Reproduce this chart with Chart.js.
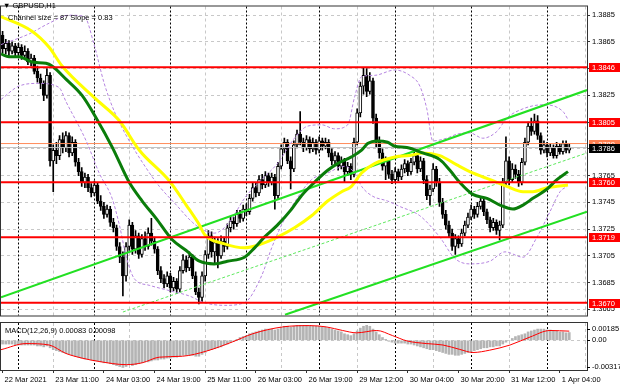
<!DOCTYPE html>
<html>
<head>
<meta charset="utf-8">
<script src="https://cdn.jsdelivr.net/npm/chart.js@4.4.1/dist/chart.umd.min.js"></script>
<style>
  body { margin: 0; background: #fff; }
  #wrap { position: relative; width: 620px; height: 388px; overflow: hidden; font-family: "Liberation Sans", Arial, sans-serif; }
  #main { position: absolute; left: 0; top: 0; }
  #macd { position: absolute; left: 0; top: 322px; }
  .lbl { position: absolute; font-size: 7.5px; color: #000; white-space: nowrap; }
</style>
</head>
<body>
<div id="wrap">
  <canvas id="main" width="620" height="322"></canvas>
  <canvas id="macd" width="620" height="66"></canvas>
  <div class="lbl" style="left:3px;top:1px">&#9660; GBPUSD,H1</div>
  <div class="lbl" style="left:8px;top:13px">Channel size = 87 Slope = 0.83</div>
  <div class="lbl" style="left:5px;top:326px">MACD(12,26,9) 0.00083 0.00098</div>
</div>
<script>
// GBPUSD H1, 22 Mar 2021 19:00 .. 1 Apr 2021 07:00 (bar index 0..179)
const opens = [1.3870,1.3860,1.3864,1.3858,1.3862,1.3857,1.3861,1.3855,1.3858,1.3850,
  1.3853,1.3843,1.3838,1.3834,1.3825,1.3840,1.3776,1.3784,1.3780,1.3792,
  1.3786,1.3795,1.3782,1.3790,1.3775,1.3768,1.3760,1.3764,1.3756,1.3752,
  1.3758,1.3746,1.3742,1.3736,1.3740,1.3730,1.3726,1.3712,1.3704,1.3690,
  1.3712,1.3728,1.3710,1.3720,1.3706,1.3718,1.3712,1.3722,1.3716,1.3710,
  1.3694,1.3688,1.3684,1.3690,1.3681,1.3686,1.3680,1.3694,1.3702,1.3696,
  1.3704,1.3690,1.3678,1.3674,1.3690,1.3706,1.3720,1.3708,1.3715,1.3705,
  1.3716,1.3712,1.3726,1.3731,1.3729,1.3736,1.3733,1.3740,1.3738,1.3748,
  1.3756,1.3752,1.3762,1.3758,1.3765,1.3760,1.3764,1.3750,1.3772,1.3785,
  1.3790,1.3776,1.3770,1.3788,1.3796,1.3790,1.3786,1.3792,1.3785,1.3790,
  1.3784,1.3791,1.3787,1.3790,1.3782,1.3776,1.3780,1.3772,1.3776,1.3768,
  1.3772,1.3766,1.3790,1.3812,1.3832,1.3840,1.3828,1.3836,1.3808,1.3790,
  1.3782,1.3772,1.3776,1.3766,1.3762,1.3768,1.3764,1.3770,1.3774,1.3768,
  1.3775,1.3780,1.3770,1.3776,1.3762,1.3750,1.3755,1.3770,1.3760,1.3745,
  1.3736,1.3728,1.3722,1.3712,1.3718,1.3714,1.3722,1.3728,1.3734,1.3740,
  1.3736,1.3742,1.3746,1.3738,1.3732,1.3726,1.3730,1.3724,1.3728,1.3760,
  1.3776,1.3762,1.3770,1.3766,1.3760,1.3775,1.3790,1.3802,1.3798,1.3806,
  1.3795,1.3784,1.3788,1.3782,1.3786,1.3780,1.3787,1.3783,1.3789,1.3784];
const highs = [1.3873,1.3867,1.3866,1.3865,1.3864,1.3864,1.3863,1.3862,1.3860,1.3856,
  1.3855,1.3847,1.3841,1.3836,1.3845,1.3842,1.3788,1.3790,1.3795,1.3797,
  1.3798,1.3797,1.3794,1.3792,1.3778,1.3771,1.3767,1.3766,1.3759,1.3761,
  1.3760,1.3750,1.3745,1.3743,1.3742,1.3733,1.3728,1.3715,1.3708,1.3715,
  1.3732,1.3730,1.3724,1.3722,1.3721,1.3723,1.3726,1.3733,1.3719,1.3712,
  1.3697,1.3691,1.3693,1.3692,1.3689,1.3688,1.3697,1.3706,1.3705,1.3708,
  1.3706,1.3693,1.3681,1.3693,1.3709,1.3724,1.3723,1.3719,1.3718,1.3720,
  1.3719,1.3729,1.3734,1.3734,1.3739,1.3739,1.3743,1.3744,1.3751,1.3760,
  1.3760,1.3765,1.3766,1.3768,1.3767,1.3767,1.3766,1.3775,1.3788,1.3793,
  1.3792,1.3779,1.3791,1.3799,1.3813,1.3793,1.3795,1.3794,1.3793,1.3792,
  1.3794,1.3793,1.3793,1.3792,1.3785,1.3783,1.3782,1.3779,1.3778,1.3775,
  1.3774,1.3793,1.3815,1.3835,1.3846,1.3845,1.3842,1.3838,1.3811,1.3794,
  1.3785,1.3779,1.3778,1.3769,1.3771,1.3770,1.3773,1.3777,1.3776,1.3778,
  1.3783,1.3782,1.3779,1.3778,1.3765,1.3758,1.3774,1.3772,1.3763,1.3748,
  1.3739,1.3731,1.3725,1.3721,1.3720,1.3725,1.3731,1.3737,1.3743,1.3742,
  1.3745,1.3749,1.3748,1.3740,1.3734,1.3733,1.3732,1.3731,1.3763,1.3794,
  1.3779,1.3774,1.3773,1.3769,1.3778,1.3793,1.3805,1.3808,1.3811,1.3810,
  1.3797,1.3791,1.3790,1.3789,1.3788,1.3790,1.3789,1.3791,1.3791,1.3789];
const lows = [1.3857,1.3856,1.3855,1.3856,1.3854,1.3855,1.3852,1.3853,1.3848,1.3847,
  1.3841,1.3835,1.3830,1.3821,1.3823,1.3772,1.3753,1.3774,1.3777,1.3782,
  1.3783,1.3779,1.3780,1.3772,1.3765,1.3757,1.3756,1.3753,1.3749,1.3750,
  1.3744,1.3739,1.3733,1.3734,1.3727,1.3723,1.3709,1.3700,1.3675,1.3686,
  1.3709,1.3706,1.3707,1.3703,1.3704,1.3709,1.3710,1.3713,1.3707,1.3691,
  1.3685,1.3681,1.3682,1.3678,1.3679,1.3677,1.3678,1.3692,1.3693,1.3694,
  1.3688,1.3676,1.3669,1.3671,1.3686,1.3703,1.3704,1.3700,1.3696,1.3703,
  1.3708,1.3710,1.3723,1.3725,1.3727,1.3730,1.3731,1.3735,1.3736,1.3746,
  1.3749,1.3750,1.3755,1.3756,1.3757,1.3758,1.3740,1.3748,1.3770,1.3782,
  1.3774,1.3755,1.3768,1.3786,1.3788,1.3783,1.3784,1.3782,1.3783,1.3781,
  1.3782,1.3784,1.3785,1.3779,1.3773,1.3774,1.3769,1.3770,1.3760,1.3765,
  1.3762,1.3764,1.3788,1.3809,1.3826,1.3824,1.3826,1.3804,1.3786,1.3778,
  1.3769,1.3762,1.3763,1.3759,1.3760,1.3761,1.3762,1.3767,1.3765,1.3766,
  1.3773,1.3767,1.3768,1.3759,1.3747,1.3743,1.3753,1.3757,1.3742,1.3733,
  1.3725,1.3719,1.3709,1.3706,1.3711,1.3712,1.3720,1.3726,1.3732,1.3733,
  1.3734,1.3740,1.3735,1.3729,1.3723,1.3724,1.3721,1.3717,1.3726,1.3758,
  1.3758,1.3760,1.3763,1.3757,1.3758,1.3773,1.3788,1.3795,1.3796,1.3792,
  1.3781,1.3782,1.3779,1.3780,1.3778,1.3778,1.3781,1.3781,1.3782,1.3782];
const closes = [1.3860,1.3864,1.3858,1.3862,1.3857,1.3861,1.3855,1.3858,1.3850,1.3853,
  1.3843,1.3838,1.3834,1.3825,1.3840,1.3776,1.3784,1.3780,1.3792,1.3786,
  1.3795,1.3782,1.3790,1.3775,1.3768,1.3760,1.3764,1.3756,1.3752,1.3758,
  1.3746,1.3742,1.3736,1.3740,1.3730,1.3726,1.3712,1.3704,1.3690,1.3712,
  1.3728,1.3710,1.3720,1.3706,1.3718,1.3712,1.3722,1.3716,1.3710,1.3694,
  1.3688,1.3684,1.3690,1.3681,1.3686,1.3680,1.3694,1.3702,1.3696,1.3704,
  1.3690,1.3678,1.3674,1.3690,1.3706,1.3720,1.3708,1.3715,1.3705,1.3716,
  1.3712,1.3726,1.3731,1.3729,1.3736,1.3733,1.3740,1.3738,1.3748,1.3756,
  1.3752,1.3762,1.3758,1.3765,1.3760,1.3764,1.3750,1.3772,1.3785,1.3790,
  1.3776,1.3770,1.3788,1.3796,1.3790,1.3786,1.3792,1.3785,1.3790,1.3784,
  1.3791,1.3787,1.3790,1.3782,1.3776,1.3780,1.3772,1.3776,1.3768,1.3772,
  1.3766,1.3790,1.3812,1.3832,1.3840,1.3828,1.3836,1.3808,1.3790,1.3782,
  1.3772,1.3776,1.3766,1.3762,1.3768,1.3764,1.3770,1.3774,1.3768,1.3775,
  1.3780,1.3770,1.3776,1.3762,1.3750,1.3755,1.3770,1.3760,1.3745,1.3736,
  1.3728,1.3722,1.3712,1.3718,1.3714,1.3722,1.3728,1.3734,1.3740,1.3736,
  1.3742,1.3746,1.3738,1.3732,1.3726,1.3730,1.3724,1.3728,1.3760,1.3776,
  1.3762,1.3770,1.3766,1.3760,1.3775,1.3790,1.3802,1.3798,1.3806,1.3795,
  1.3784,1.3788,1.3782,1.3786,1.3780,1.3787,1.3783,1.3789,1.3784,1.3786];

// moving averages (read at sample bars)
const slowMaBars = [-0.5,9.3,14.7,18.8,29.6,36.9,43.2,52.7,58,62.2,63.8,70.1,76.4,81.8,86.8,92.2,97.6,102.7,107.1,110.2,
  113.4,117.5,123.9,128.6,132.7,138.1,143.5,148.5,154,159.3,164.4,167.5,172,175.1,178.6];
const slowMaPrices = [1.3884,1.3873,1.3861,1.3847,1.3822,1.3806,1.3784,1.3761,1.3743,1.3728,1.3721,1.3714,1.3711,1.3714,1.3719,1.3726,1.3735,1.3746,1.3753,1.3757,
  1.3767,1.3774,1.3779,1.3780,1.3782,1.3780,1.3773,1.3767,1.3762,1.3757,1.3753,1.3753,1.3756,1.3757,1.3758];
const fastMaBars = [-0.5,2,5.2,9.3,13.7,15.6,20.1,25.1,29.6,34.7,40,44.1,48.5,53.6,58,62.2,66.9,71,76.4,79.6,
  82.7,86.8,91.3,94.4,98.5,102.7,105.8,110.2,113.4,115.3,118.5,121.6,123.9,127.7,132.7,138.1,141.3,144.4,148.5,153,
  157.1,161.2,164.4,167.5,172,175.1,178.6];
const fastMaPrices = [1.3856,1.3854,1.3854,1.3850,1.3849,1.3847,1.3837,1.3825,1.3808,1.3786,1.3760,1.3746,1.3733,1.3717,1.3709,1.3701,1.3699,1.3701,1.3704,1.3711,
  1.3719,1.3728,1.3740,1.3750,1.3760,1.3769,1.3774,1.3779,1.3784,1.3789,1.3791,1.3790,1.3787,1.3786,1.3782,1.3777,1.3769,1.3760,1.3751,1.3748,
  1.3743,1.3740,1.3743,1.3748,1.3755,1.3762,1.3768];

// envelope bands (dashed purple)
const upperBandBars = [-0.5,8.4,14.7,21,25.8,28.9,32.1,35.3,40,44.7,49.5,54.9,60,63.7,66.9,71.6,76.4,81.8,86.8,92.2,
  96.3,100.8,104.9,109,111.2,113.4,117.5,123.9,128.6,131.8,134,135.9,140.3,143.5,147.6,151.7,156.1,159.3,164.4,170.7,177,178.6];
const upperBandPrices = [1.3863,1.3871,1.3879,1.3885,1.3884,1.3863,1.3834,1.3813,1.3791,1.3773,1.3757,1.3743,1.3730,1.3724,1.3722,1.3730,1.3748,1.3762,1.3774,1.3793,
  1.3802,1.3803,1.3800,1.3803,1.3824,1.3839,1.3840,1.3844,1.3840,1.3832,1.3815,1.3791,1.3793,1.3796,1.3797,1.3793,1.3798,1.3808,1.3815,1.3818,1.3813,1.3807];
const lowerBandBars = [-0.5,5.2,11.5,17.8,20.1,26.4,30.5,34.6,36.9,39.1,41.6,46.3,52.7,59,63.7,70.1,76.4,81.8,85,88.1,
  92.2,97.6,102.7,108,111.2,113.4,116.6,121.6,125.4,131.8,138.1,142.9,147.6,153.9,158.7,164.4,168.8,172.9,176.1,178.3];
const lowerBandPrices = [1.3822,1.3832,1.3834,1.3831,1.3820,1.3791,1.3767,1.3748,1.3728,1.3704,1.3688,1.3683,1.3679,1.3675,1.3670,1.3668,1.3670,1.3690,1.3711,1.3728,
  1.3745,1.3762,1.3767,1.3772,1.3767,1.3757,1.3750,1.3746,1.3742,1.3735,1.3719,1.3703,1.3699,1.3701,1.3708,1.3704,1.3719,1.3738,1.3753,1.3757];

// regression channel
const channelTopBars = [-0.5, 184.6], channelTopPrices = [1.3674, 1.3829];
const channelMidBars = [38.0, 184.6], channelMidPrices = [1.3663, 1.3782];
const channelLowBars = [89.2, 184.6], channelLowPrices = [1.3661, 1.3738];

const levels = [1.3846, 1.3805, 1.3760, 1.3719, 1.3670];
const askPrice = 1.3789, bidPrice = 1.3786;
const priceTicks = [1.3665,1.3685,1.3705,1.3725,1.3745,1.3765,1.3785,1.3805,1.3825,1.3845,1.3865,1.3885];

// MACD(12,26,9)
const macdMain = [-0.0004,-0.0004,-0.0004,-0.0004,-0.0005,-0.0005,-0.0005,-0.0005,-0.0005,-0.0005,
  -0.0005,-0.0006,-0.0006,-0.0007,-0.0006,-0.0008,-0.0010,-0.0011,-0.0012,-0.0013,
  -0.0014,-0.0015,-0.0016,-0.0017,-0.0018,-0.0019,-0.0020,-0.0020,-0.0021,-0.0022,
  -0.0022,-0.0023,-0.0024,-0.0024,-0.0025,-0.0026,-0.0027,-0.0028,-0.0029,-0.0028,
  -0.0026,-0.0027,-0.0026,-0.0025,-0.0024,-0.0023,-0.0023,-0.0022,-0.0021,-0.0021,
  -0.0020,-0.0020,-0.0019,-0.0019,-0.0018,-0.0018,-0.0017,-0.0016,-0.0016,-0.0016,
  -0.0016,-0.0017,-0.0017,-0.0015,-0.0013,-0.0011,-0.0010,-0.0009,-0.0008,-0.0007,
  -0.0005,-0.0004,-0.0002,-0.0001,0.0001,0.0003,0.0004,0.0005,0.0007,0.0008,
  0.0009,0.0010,0.0011,0.0012,0.0012,0.0012,0.0011,0.0012,0.0014,0.0015,
  0.0015,0.0014,0.0015,0.0016,0.0016,0.0016,0.0016,0.0016,0.0015,0.0015,
  0.0015,0.0014,0.0014,0.0013,0.0012,0.0011,0.0010,0.0009,0.0007,0.0006,
  0.0005,0.0007,0.0010,0.0013,0.0015,0.0016,0.0015,0.0012,0.0009,0.0006,
  0.0003,0.0001,-0.0001,-0.0002,-0.0003,-0.0003,-0.0003,-0.0003,-0.0004,-0.0004,
  -0.0005,-0.0006,-0.0007,-0.0008,-0.0009,-0.0010,-0.0010,-0.0011,-0.0012,-0.0013,
  -0.0014,-0.0015,-0.0015,-0.0016,-0.0016,-0.0015,-0.0014,-0.0013,-0.0012,-0.0011,
  -0.0010,-0.0009,-0.0008,-0.0008,-0.0007,-0.0007,-0.0006,-0.0006,-0.0004,-0.0002,
  0.0000,0.0002,0.0004,0.0005,0.0006,0.0007,0.0009,0.0010,0.0011,0.0012,
  0.0012,0.0012,0.0011,0.0011,0.0010,0.0010,0.0009,0.0009,0.0008,0.00083];
const signalBars = [-0.5,7.4,14.7,20,25.1,30.5,39.1,44.1,49.5,56.8,64.4,72.6,79,88.4,97,102.3,107.4,111.8,118.2,123.2,
  127.7,134,139.1,144.4,148.6,153.9,160.3,166.6,172.9,179];
const signalValues = [-0.00100,-0.00035,-0.00050,-0.00140,-0.00190,-0.00226,-0.00260,-0.00240,-0.00180,-0.00170,
  -0.00115,-0.00017,0.00070,0.00143,0.00157,0.00143,0.00105,0.00080,0.00105,0.00050,
  -0.00006,-0.00035,-0.00050,-0.00097,-0.00130,-0.00105,-0.00050,0.00035,0.00105,0.00098];
const macdAxisValues = [0.00185, 0, -0.00317];
const macdAxisLabels = ['0.00185', '0.00', '-0.00317'];

// time axis
const labelBars = [0,16,32,48,64,80,96,112,128,144,160,176];
const timeLabels = ['22 Mar 2021','23 Mar 11:00','24 Mar 03:00','24 Mar 19:00','25 Mar 11:00','26 Mar 03:00',
  '26 Mar 19:00','29 Mar 12:00','30 Mar 04:00','30 Mar 20:00','31 Mar 12:00','1 Apr 04:00'];
const gridBars = [16,40,64,88,112,136,160,184];
const daySeparators = [5,29,53,77,100,124,148,172];

const xMin = -0.5, xMax = 184.6;
const axisFont = '7.5px "Liberation Sans", Arial, sans-serif';

Chart.defaults.font.family = '"Liberation Sans", Arial, sans-serif';
Chart.defaults.font.size = 7.5;
Chart.defaults.color = '#000';

const pts = (xs, ys) => xs.map((x, k) => ({x: x, y: ys[k]}));
const flat = v => [{x: xMin, y: v}, {x: xMax, y: v}];

function drawVerticals(chart) {
  const {ctx, chartArea: a, scales: {x}} = chart;
  ctx.save();
  ctx.lineWidth = 1;
  const vline = b => {
    const px = Math.round(x.getPixelForValue(b)) + 0.5;
    ctx.beginPath(); ctx.moveTo(px, a.top); ctx.lineTo(px, a.bottom); ctx.stroke();
  };
  ctx.strokeStyle = '#c8c8c8'; ctx.setLineDash([3, 3]);
  gridBars.forEach(vline);
  ctx.strokeStyle = '#000'; ctx.setLineDash([2, 2]);
  daySeparators.forEach(vline);
  ctx.restore();
}

function drawFrame(chart) {
  const {ctx, chartArea: a} = chart;
  ctx.save();
  ctx.strokeStyle = '#333'; ctx.lineWidth = 1;
  ctx.strokeRect(a.left - 0.5, a.top - 0.5, a.right - a.left + 1, a.bottom - a.top + 1);
  ctx.restore();
}

const mainDecor = {
  id: 'mainDecor',
  beforeDatasetsDraw(chart) { drawVerticals(chart); },
  afterDraw(chart) {
    const {ctx, chartArea: a, scales: {y}} = chart;
    drawFrame(chart);
    ctx.save();
    ctx.font = axisFont; ctx.textBaseline = 'middle'; ctx.textAlign = 'left';
    const box = (v, fill) => {
      const py = Math.round(y.getPixelForValue(v));
      ctx.fillStyle = fill; ctx.fillRect(a.right + 2, py - 4, 620 - a.right - 2, 9);
      ctx.fillStyle = '#fff'; ctx.fillText(v.toFixed(4), a.right + 5, py + 0.5);
    };
    levels.forEach(v => box(v, '#ff0000'));
    box(askPrice, '#ff7f50');
    box(bidPrice, '#000000');
    ctx.restore();
  }
};

const macdDecor = {
  id: 'macdDecor',
  beforeDatasetsDraw(chart) { drawVerticals(chart); },
  afterDraw(chart) {
    const {ctx, chartArea: a, scales: {y}} = chart;
    drawFrame(chart);
    ctx.save();
    ctx.font = axisFont; ctx.textBaseline = 'middle'; ctx.textAlign = 'left'; ctx.fillStyle = '#000';
    const ys = [a.top + 6, y.getPixelForValue(macdAxisValues[1]), a.bottom - 3.5];
    ys.forEach((py, k) => {
      ctx.fillText(macdAxisLabels[k], a.right + 5, py);
      ctx.fillRect(a.right, Math.round(py), 3, 1);
    });
    ctx.restore();
  }
};

new Chart(document.getElementById('main'), {
  type: 'bar',
  data: {
    datasets: [
      ...levels.map(v => ({type: 'line', data: flat(v), borderColor: '#ff0000', borderWidth: 2, order: 1})),
      {type: 'line', data: pts(fastMaBars, fastMaPrices), borderColor: '#0a7d0a', borderWidth: 3,
        cubicInterpolationMode: 'monotone', order: 2},
      {type: 'line', data: pts(slowMaBars, slowMaPrices), borderColor: '#ffff00', borderWidth: 3,
        cubicInterpolationMode: 'monotone', order: 3},
      {type: 'line', data: pts(channelTopBars, channelTopPrices), borderColor: '#22e022', borderWidth: 2, order: 4},
      {type: 'line', data: pts(channelLowBars, channelLowPrices), borderColor: '#22e022', borderWidth: 2, order: 4},
      {type: 'line', data: pts(channelMidBars, channelMidPrices), borderColor: '#5ee85e', borderWidth: 1,
        borderDash: [3, 2], order: 4},
      {type: 'line', data: pts(upperBandBars, upperBandPrices), borderColor: '#b584e0', borderWidth: 1,
        borderDash: [3, 2], cubicInterpolationMode: 'monotone', order: 5},
      {type: 'line', data: pts(lowerBandBars, lowerBandPrices), borderColor: '#b584e0', borderWidth: 1,
        borderDash: [3, 2], cubicInterpolationMode: 'monotone', order: 5},
      {type: 'line', data: flat(askPrice), borderColor: '#ff8c5a', borderWidth: 1, order: 7},
      {type: 'line', data: flat(bidPrice), borderColor: '#c0c0c0', borderWidth: 1, order: 7},
      {type: 'bar', data: closes.map((c, i) => ({x: i, y: [opens[i], c]})),
        backgroundColor: closes.map((c, i) => c >= opens[i] ? '#ffffff' : '#000000'),
        borderColor: '#000', borderWidth: 1, borderSkipped: false, barThickness: 3, grouped: false, order: 8},
      {type: 'bar', data: closes.map((c, i) => ({x: i, y: [lows[i], highs[i]]})),
        backgroundColor: '#000', barThickness: 1, grouped: false, order: 9}
    ]
  },
  options: {
    responsive: false,
    animation: false,
    devicePixelRatio: 1,
    events: [],
    layout: {padding: {left: 1, top: 1, right: 0, bottom: 1}},
    elements: {point: {radius: 0}, line: {tension: 0}},
    plugins: {legend: {display: false}, tooltip: {enabled: false}},
    scales: {
      x: {type: 'linear', display: false, min: xMin, max: xMax, offset: false},
      y: {
        type: 'linear', position: 'right', min: 1.36604, max: 1.38915,
        afterBuildTicks: s => { s.ticks = priceTicks.map(v => ({value: v})); },
        afterFit: s => { s.width = 33; },
        ticks: {callback: v => v.toFixed(4), padding: 2, color: '#000'},
        grid: {color: '#c8c8c8', tickColor: '#333', tickLength: 3},
        border: {color: '#333', dash: [3, 3]}
      }
    }
  },
  plugins: [mainDecor]
});

new Chart(document.getElementById('macd'), {
  type: 'bar',
  data: {
    datasets: [
      {type: 'line', data: pts(signalBars, signalValues), borderColor: '#ff0000', borderWidth: 1,
        cubicInterpolationMode: 'monotone', order: 1},
      {type: 'bar', data: macdMain.map((v, i) => ({x: i, y: v})), backgroundColor: '#b4b4b4',
        barThickness: 2, grouped: false, order: 2}
    ]
  },
  options: {
    responsive: false,
    animation: false,
    devicePixelRatio: 1,
    events: [],
    layout: {padding: {left: 1, top: 1, right: 0, bottom: 0}},
    elements: {point: {radius: 0}},
    plugins: {legend: {display: false}, tooltip: {enabled: false}},
    scales: {
      x: {
        type: 'linear', min: xMin, max: xMax, offset: false,
        afterBuildTicks: s => { s.ticks = labelBars.map(v => ({value: v})); },
        afterFit: s => { s.height = 18; },
        ticks: {autoSkip: false, maxRotation: 0, minRotation: 0, align: 'start', labelOffset: 2, padding: 2,
          callback: (v, i) => timeLabels[i], color: '#000'},
        grid: {drawOnChartArea: false, tickLength: 3, tickColor: '#333', offset: false},
        border: {color: '#333'}
      },
      y: {
        type: 'linear', position: 'right', min: -0.00317, max: 0.00185,
        afterBuildTicks: s => { s.ticks = [{value: 0}]; },
        afterFit: s => { s.width = 33; },
        ticks: {display: false},
        grid: {color: '#c8c8c8', drawTicks: false},
        border: {color: '#333', dash: [3, 3]}
      }
    }
  },
  plugins: [macdDecor]
});
</script>
</body>
</html>
